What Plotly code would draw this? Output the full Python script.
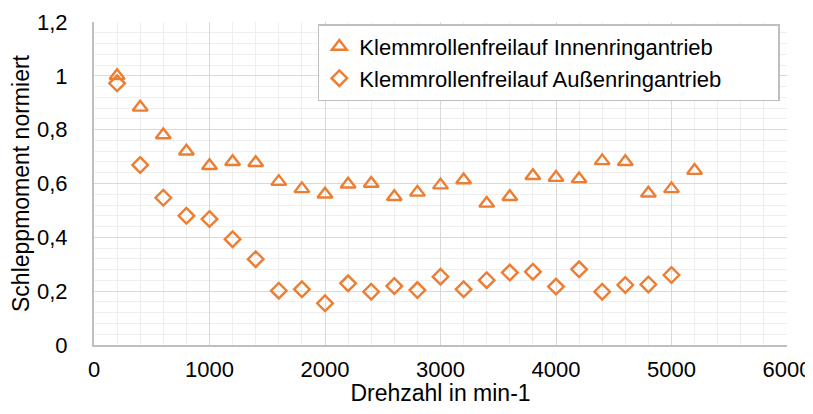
import plotly.graph_objects as go

# Drehzahl in min-1
drehzahl_innen = [200, 400, 600, 800, 1000, 1200, 1400, 1600, 1800, 2000, 2200, 2400, 2600,
                  2800, 3000, 3200, 3400, 3600, 3800, 4000, 4200, 4400, 4600, 4800, 5000, 5200]
moment_innen = [1.0, 0.883, 0.78, 0.72, 0.666, 0.681, 0.677, 0.607, 0.58, 0.56, 0.597, 0.60, 0.551,
                0.567, 0.594, 0.613, 0.526, 0.551, 0.629, 0.622, 0.617, 0.684, 0.681, 0.564, 0.58, 0.648]

drehzahl_aussen = [200, 400, 600, 800, 1000, 1200, 1400, 1600, 1800, 2000, 2200, 2400, 2600,
                   2800, 3000, 3200, 3400, 3600, 3800, 4000, 4200, 4400, 4600, 4800, 5000]
moment_aussen = [0.972, 0.669, 0.547, 0.48, 0.468, 0.393, 0.319, 0.202, 0.207, 0.155, 0.229, 0.198, 0.219,
                 0.204, 0.254, 0.207, 0.241, 0.269, 0.272, 0.217, 0.281, 0.198, 0.223, 0.225, 0.26]

name_innen = "Klemmrollenfreilauf Innenringantrieb"
name_aussen = "Klemmrollenfreilauf Außenringantrieb"

orange = "#ED7D31"
font = "Liberation Sans, Arial, sans-serif"

fig = go.Figure()
fig.add_trace(go.Scatter(
    x=drehzahl_innen, y=moment_innen, mode="markers", name=name_innen,
    marker=dict(symbol="triangle-up-open", size=13, color=orange, line=dict(width=2.4, color=orange)),
))
fig.add_trace(go.Scatter(
    x=drehzahl_aussen, y=moment_aussen, mode="markers", name=name_aussen,
    marker=dict(symbol="diamond-open", size=12, color=orange, line=dict(width=2.4, color=orange)),
))

# the page puts the figure 8px in from the top-left corner (body margin),
# so the figure is made smaller to avoid scrollbars
fig.update_layout(
    width=805, height=398,
    margin=dict(l=86, r=26, t=14, b=61, autoexpand=False),
    paper_bgcolor="white", plot_bgcolor="white",
    separators=", ",
    font=dict(family=font, size=23, color="#000000"),
    legend=dict(
        x=0.323, y=0.993, xanchor="left", yanchor="top",
        orientation="h", entrywidth=414, entrywidthmode="pixels",
        bgcolor="white", bordercolor="#bfbfbf", borderwidth=1.5,
        font=dict(size=22), itemwidth=30, tracegroupgap=0,
    ),
)

fig.update_xaxes(
    range=[0, 6000], dtick=1000, tick0=0, automargin=False,
    showgrid=True, gridcolor="#d9d9d9", gridwidth=1.3,
    minor=dict(dtick=200, showgrid=True, gridcolor="#efefef", gridwidth=1.3),
    showline=True, linecolor="#bfbfbf", linewidth=2, mirror=False,
    zeroline=False, ticks="", ticklabelstandoff=4,
    title=dict(text="Drehzahl in min-1", standoff=3, font=dict(size=23)),
    tickfont=dict(size=22),
)
fig.update_yaxes(
    range=[0, 1.2], dtick=0.2, tick0=0, automargin=False,
    showgrid=True, gridcolor="#d9d9d9", gridwidth=1.3,
    minor=dict(dtick=0.04, showgrid=True, gridcolor="#efefef", gridwidth=1.3),
    showline=True, linecolor="#bfbfbf", linewidth=2, mirror=False,
    zeroline=False, ticks="", ticklabelstandoff=20,
    title=dict(text="Schleppmoment normiert", standoff=10, font=dict(size=23)),
    tickfont=dict(size=22),
)

fig.write_html("out.html")
